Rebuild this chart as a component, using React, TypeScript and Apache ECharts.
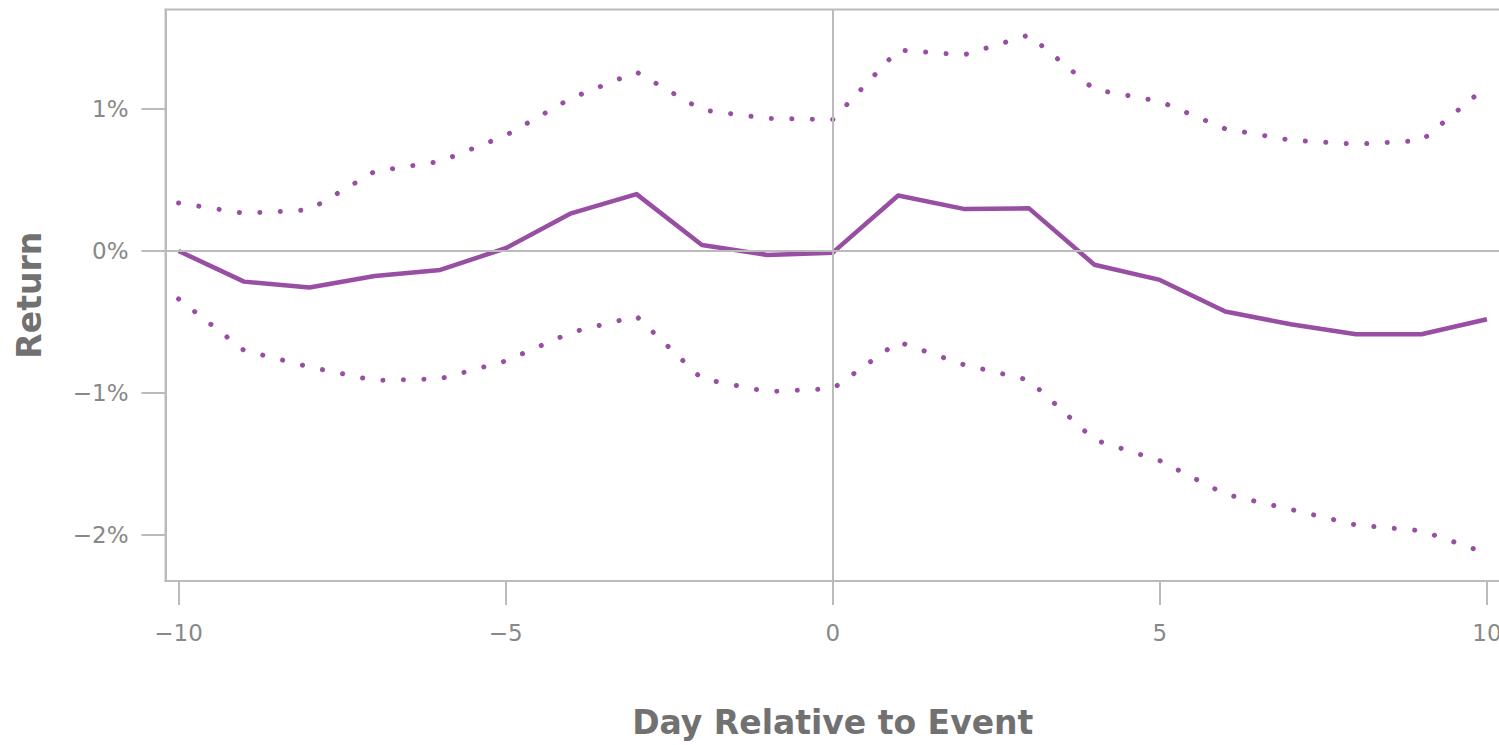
import React, { useEffect, useRef } from "react";
import * as echarts from "echarts";

const days = [-10, -9, -8, -7, -6, -5, -4, -3, -2, -1, 0, 1, 2, 3, 4, 5, 6, 7, 8, 9, 10];
const meanReturn = [0.0, -0.216, -0.258, -0.176, -0.134, 0.019, 0.265, 0.4, 0.042, -0.028, -0.012, 0.39, 0.296, 0.3, -0.097, -0.204, -0.427, -0.516, -0.587, -0.587, -0.481];
const upperBand = [0.338, 0.265, 0.289, 0.56, 0.63, 0.813, 1.075, 1.26, 0.993, 0.933, 0.925, 1.415, 1.38, 1.52, 1.137, 1.053, 0.86, 0.78, 0.752, 0.777, 1.16];
const lowerBand = [-0.338, -0.7, -0.817, -0.912, -0.9, -0.775, -0.574, -0.46, -0.9, -0.99, -0.97, -0.64, -0.8, -0.91, -1.33, -1.477, -1.713, -1.82, -1.93, -1.97, -2.13];
const xTicks = [-10, -5, 0, 5, 10];
const yTicks = [-2, -1, 0, 1];

const PURPLE = "#984ea3";
const AXIS = "#bbbbbb";
const CHART_W = 1530;

const fmtNum = (v: number) => (v < 0 ? "\u2212" + Math.abs(v) : String(v));

export default function App() {
  const ref = useRef<HTMLDivElement>(null);
  useEffect(() => {
    if (!ref.current) return;
    const chart = echarts.init(ref.current, undefined, { renderer: "svg" });
    const pair = (arr: number[]) => days.map((d, i) => [d, arr[i]]);
    chart.setOption({
      animation: false,
      grid: {
        left: 165.5,
        top: 9.5,
        right: CHART_W - 1500,
        bottom: 164,
        show: true,
        borderColor: AXIS,
        borderWidth: 2,
        containLabel: false,
      },
      xAxis: {
        type: "value",
        min: -10.2,
        max: 10.2,
        name: "Day Relative to Event",
        nameLocation: "middle",
        nameGap: 124.5,
        nameTextStyle: { fontFamily: "DejaVu Sans", fontWeight: "bold", fontSize: 33, color: "#717171" },
        axisLine: { show: true, onZero: false, lineStyle: { color: AXIS, width: 2 } },
        axisTick: { show: true, length: 24, customValues: xTicks, lineStyle: { color: AXIS, width: 2 } },
        axisLabel: { customValues: xTicks, margin: 40, fontFamily: "DejaVu Sans", fontSize: 23, color: "#888888", formatter: (v: number) => fmtNum(v) },
        splitLine: { show: false },
      },
      yAxis: {
        type: "value",
        min: -2.324,
        max: 1.7,
        name: "Return",
        nameLocation: "middle",
        nameGap: 120,
        nameRotate: 90,
        nameTextStyle: { fontFamily: "DejaVu Sans", fontWeight: "bold", fontSize: 33, color: "#717171" },
        axisLine: { show: true, onZero: false, lineStyle: { color: AXIS, width: 2 } },
        axisTick: { show: true, length: 24, customValues: yTicks, lineStyle: { color: AXIS, width: 2 } },
        axisLabel: { customValues: yTicks, margin: 37, fontFamily: "DejaVu Sans", fontSize: 23, color: "#888888", formatter: (v: number) => fmtNum(v) + "%" },
        splitLine: { show: false },
      },
      series: [
        {
          type: "line",
          data: [],
          silent: true,
          z: 1,
          markLine: {
            silent: true,
            symbol: "none",
            label: { show: false },
            lineStyle: { color: AXIS, width: 2, type: "solid" },
            data: [{ xAxis: 0 }, { yAxis: 0 }],
          },
        },
        {
          type: "line",
          data: pair(upperBand),
          showSymbol: false,
          z: 3,
          lineStyle: { color: PURPLE, width: 5, type: [0.1, 20.4], cap: "round" },
        },
        {
          type: "line",
          data: pair(lowerBand),
          showSymbol: false,
          z: 3,
          lineStyle: { color: PURPLE, width: 5, type: [0.1, 20.4], cap: "round" },
        },
        {
          type: "line",
          data: pair(meanReturn),
          showSymbol: false,
          z: 4,
          lineStyle: { color: PURPLE, width: 4.5, join: "round" },
        },
      ],
    });
    return () => chart.dispose();
  }, []);
  return (
    <div
      ref={ref}
      style={{ position: "fixed", left: 0, top: 0, width: CHART_W, height: 745, background: "#ffffff" }}
    />
  );
}
